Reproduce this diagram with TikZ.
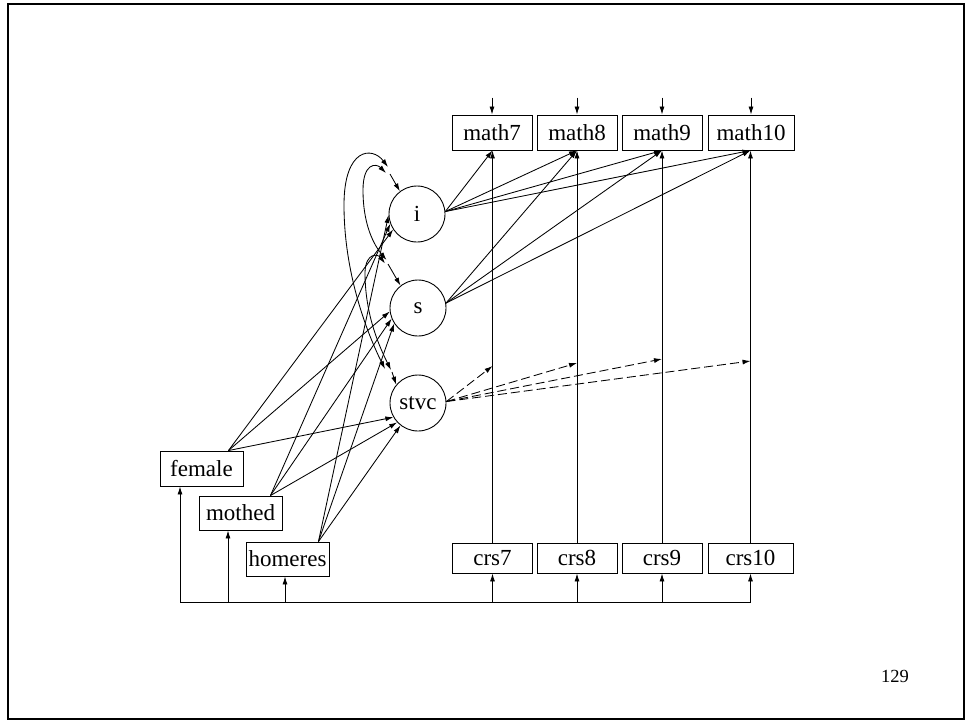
\documentclass[tikz,border=0pt]{standalone}
\usepackage{fontspec}
\setmainfont{Liberation Serif}
\usetikzlibrary{arrows.meta,calc}
\begin{document}
\begin{tikzpicture}[x=1pt,y=-1pt,
  arr/.style={-{Latex[length=8pt,width=5pt]}, line width=0.85pt},
  dbl/.style={{Latex[length=8pt,width=5pt]}-{Latex[length=8pt,width=5pt]}, line width=0.85pt},
  dsh/.style={arr, dash pattern=on 9pt off 4pt},
  obs/.style={draw, line width=0.9pt, inner sep=0pt, minimum width=80pt, minimum height=35pt, font=\fontsize{23}{27}\selectfont},
  lat/.style={draw, circle, line width=0.9pt, inner sep=0pt, minimum size=56pt, font=\fontsize{23}{27}\selectfont},
  plain/.style={line width=0.85pt}
]
\useasboundingbox (0,0) rectangle (967,721);
\draw[line width=2.2pt] (8,4) rectangle (964,719);

% outcome boxes
\node[obs] (math7) at (492,132.5) {math7};
\node[obs] (math8) at (577,132.5) {math8};
\node[obs] (math9) at (662,132.5) {math9};
\node[obs, minimum width=86pt] (math10) at (751,132.5) {math10};

% time-varying covariates
\node[obs, minimum height=30pt] (crs7) at (492.5,558) {crs7};
\node[obs, minimum height=30pt] (crs8) at (577,558) {crs8};
\node[obs, minimum height=30pt] (crs9) at (662,558) {crs9};
\node[obs, minimum height=30pt, minimum width=85pt] (crs10) at (750.5,558) {crs10};

% time-invariant covariates
\node[obs, minimum width=83pt] (female) at (201.5,468.5) {female};
\node[obs, minimum width=83pt, minimum height=34pt] (mothed) at (240.5,513) {mothed};
\node[obs, minimum width=83pt, minimum height=34pt] (homeres) at (287.5,559) {homeres};

% latent factors
\node[lat] (i) at (417,214) {i};
\node[lat] (s) at (418,308) {s};
\node[lat] (stvc) at (418,403) {stvc};

% page number
\node[font=\fontsize{18.5}{22}\selectfont] (pg) at (895,676) {129};

% residual arrows on top
\foreach \m in {7,8,9,10}
  \draw[arr] ([yshift=17pt]math\m.north) -- (math\m.south |- math\m.north);

% crs -> math
\foreach \m in {7,8,9,10}
  \draw[arr] (crs\m.north) -- (crs\m.north |- math\m.south);

% i -> math
\foreach \m in {7,8,9,10}
  \draw[arr] (i.5) -- (crs\m.north |- math\m.south);
% s -> math
\foreach \m in {8,9,10}
  \draw[arr] (s.10) -- (crs\m.north |- math\m.south);

% stvc -> interaction points (dashed)
\coordinate (d7) at (492.5,366);
\coordinate (d8) at (577,363);
\coordinate (d9) at (662,359);
\coordinate (d10) at (750.5,361);
\foreach \m in {7,8,9,10}
  \draw[dsh] (stvc.3) -- (d\m);

% covariates -> latent factors
\coordinate (fo) at ([xshift=-15pt]female.north east);
\coordinate (mo) at ([xshift=-12pt]mothed.north east);
\coordinate (ho) at ([xshift=-11pt]homeres.north east);
\draw[arr] (fo) -- (i.213);
\draw[arr] (fo) -- (s.187);
\draw[arr] (fo) -- (stvc.210);
\draw[arr] (mo) -- (i.200);
\draw[arr] (mo) -- (s.202);
\draw[arr] (mo) -- (stvc.223);
\draw[arr] (ho) -- (i.182);
\draw[arr] (ho) -- (s.213);
\draw[arr] (ho) -- (stvc.232);

% covariance curves among latent factors
\coordinate (jiA) at (388,167);
\coordinate (jiB) at (386,173);
\coordinate (jsB) at (386.5,260);
\coordinate (jsC) at (385,263.5);
\coordinate (jtA) at (385,369);
\coordinate (jtC) at (391,370);
\draw[dbl] (jiA) .. controls (372,146) and (344,148) .. (344,205)
                 .. controls (344,275) and (368,335) .. (jtA);
\draw[dbl] (jiB) .. controls (376,163) and (363,163) .. (363,190)
                 .. controls (363,225) and (374,245) .. (jsB);
\draw[dbl] (jsC) .. controls (378,254) and (366,252) .. (365,272)
                 .. controls (365,310) and (376,340) .. (jtC);
\coordinate (ki) at (390,174);
\coordinate (ks) at (388,264);
\coordinate (kt) at (392,372);
\draw[arr] (ki) -- (i.127);
\draw[arr] (ks) -- (s.128);
\draw[arr] (kt) -- (stvc.140);

% common line below
\coordinate (bl) at (180,602);
\coordinate (bm) at (228,602);
\coordinate (bh) at (285,602);
\coordinate (br) at (750.5,602);
\draw[plain] (bl) -- (br);
\draw[arr] (bl) -- (bl |- female.south);
\draw[arr] (bm) -- (bm |- mothed.south);
\draw[arr] (bh) -- (bh |- homeres.south);
\foreach \m in {7,8,9,10}
  \draw[arr] (crs\m.south |- bl) -- (crs\m.south);
\end{tikzpicture}
\end{document}
